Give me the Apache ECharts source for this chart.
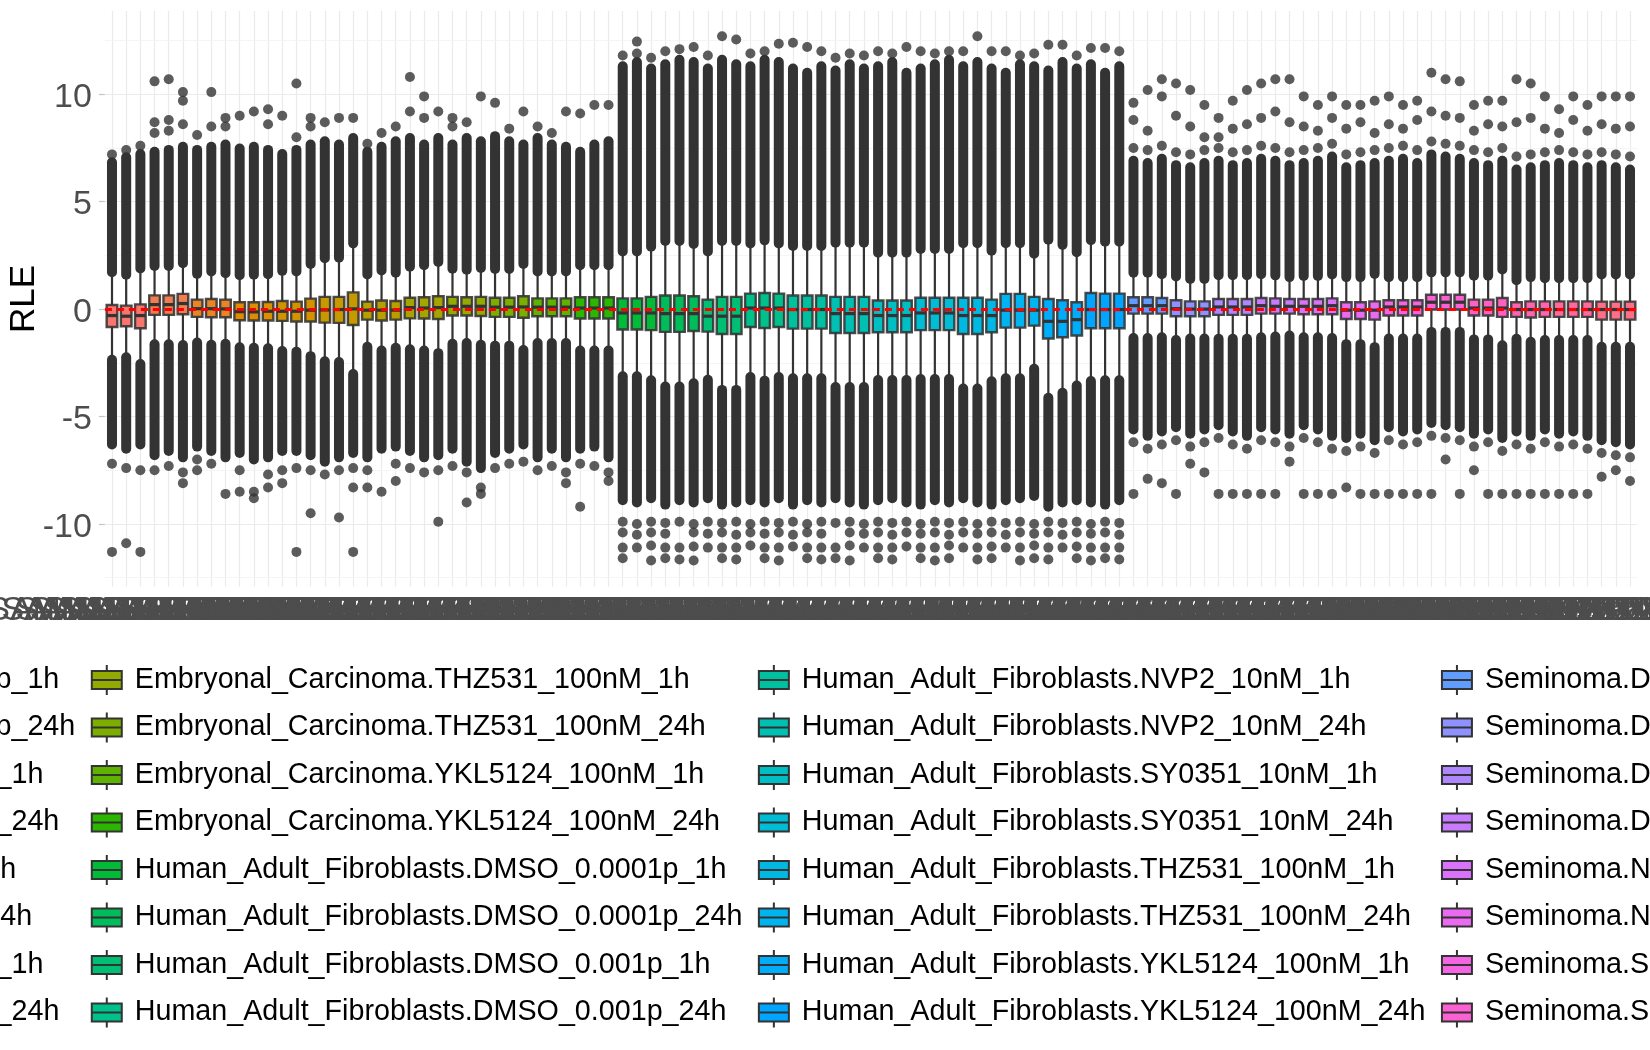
<!DOCTYPE html>
<html>
<head>
<meta charset="utf-8">
<script src="https://cdn.jsdelivr.net/npm/echarts@6/dist/echarts.min.js"></script>
<style>
  html, body { margin: 0; padding: 0; background: #fff; }
  #chart { width: 1650px; height: 1050px; }
</style>
</head>
<body>
<div id="chart"></div>
<script>
// groups (legend entries), 3 samples each
const groups = [
  'Embryonal_Carcinoma.DMSO_0.0001p_1h', 'Embryonal_Carcinoma.DMSO_0.0001p_24h',
  'Embryonal_Carcinoma.DMSO_0.001p_1h', 'Embryonal_Carcinoma.DMSO_0.001p_24h',
  'Embryonal_Carcinoma.NVP2_10nM_1h', 'Embryonal_Carcinoma.NVP2_10nM_24h',
  'Embryonal_Carcinoma.SY0351_10nM_1h', 'Embryonal_Carcinoma.SY0351_10nM_24h',
  'Embryonal_Carcinoma.THZ531_100nM_1h', 'Embryonal_Carcinoma.THZ531_100nM_24h',
  'Embryonal_Carcinoma.YKL5124_100nM_1h', 'Embryonal_Carcinoma.YKL5124_100nM_24h',
  'Human_Adult_Fibroblasts.DMSO_0.0001p_1h', 'Human_Adult_Fibroblasts.DMSO_0.0001p_24h',
  'Human_Adult_Fibroblasts.DMSO_0.001p_1h', 'Human_Adult_Fibroblasts.DMSO_0.001p_24h',
  'Human_Adult_Fibroblasts.NVP2_10nM_1h', 'Human_Adult_Fibroblasts.NVP2_10nM_24h',
  'Human_Adult_Fibroblasts.SY0351_10nM_1h', 'Human_Adult_Fibroblasts.SY0351_10nM_24h',
  'Human_Adult_Fibroblasts.THZ531_100nM_1h', 'Human_Adult_Fibroblasts.THZ531_100nM_24h',
  'Human_Adult_Fibroblasts.YKL5124_100nM_1h', 'Human_Adult_Fibroblasts.YKL5124_100nM_24h',
  'Seminoma.DMSO_0.0001p_1h', 'Seminoma.DMSO_0.0001p_24h',
  'Seminoma.DMSO_0.001p_1h', 'Seminoma.DMSO_0.001p_24h',
  'Seminoma.NVP2_10nM_1h', 'Seminoma.NVP2_10nM_24h',
  'Seminoma.SY0351_10nM_1h', 'Seminoma.SY0351_10nM_24h',
  'Seminoma.THZ531_100nM_1h', 'Seminoma.THZ531_100nM_24h',
  'Seminoma.YKL5124_100nM_1h', 'Seminoma.YKL5124_100nM_24h'
];
const perGroup = 3;

const sampleIds = [
  'SAMN15810001','SAMN15810002','SAMN15810003','SAMN15810004','SAMN15810005','SAMN15810006',
  'SAMN15810007','SAMN15810008','SAMN15810009','SAMN15810010','SAMN15810011','SAMN15810012',
  'SAMN15810013','SAMN15810014','SAMN15810015','SAMN15810016','SAMN15810017','SAMN15810018',
  'SAMN15810019','SAMN15810020','SAMN15810021','SAMN15810022','SAMN15810023','SAMN15810024',
  'SAMN15810025','SAMN15810026','SAMN15810027','SAMN15810028','SAMN15810029','SAMN15810030',
  'SAMN15810031','SAMN15810032','SAMN15810033','SAMN15810034','SAMN15810035','SAMN15810036',
  'SAMN15810037','SAMN15810038','SAMN15810039','SAMN15810040','SAMN15810041','SAMN15810042',
  'SAMN15810043','SAMN15810044','SAMN15810045','SAMN15810046','SAMN15810047','SAMN15810048',
  'SAMN15810049','SAMN15810050','SAMN15810051','SAMN15810052','SAMN15810053','SAMN15810054',
  'SAMN15810055','SAMN15810056','SAMN15810057','SAMN15810058','SAMN15810059','SAMN15810060',
  'SAMN15810061','SAMN15810062','SAMN15810063','SAMN15810064','SAMN15810065','SAMN15810066',
  'SAMN15810067','SAMN15810068','SAMN15810069','SAMN15810070','SAMN15810071','SAMN15810072',
  'SAMN15810073','SAMN15810074','SAMN15810075','SAMN15810076','SAMN15810077','SAMN15810078',
  'SAMN15810079','SAMN15810080','SAMN15810081','SAMN15810082','SAMN15810083','SAMN15810084',
  'SAMN15810085','SAMN15810086','SAMN15810087','SAMN15810088','SAMN15810089','SAMN15810090',
  'SAMN15810091','SAMN15810092','SAMN15810093','SAMN15810094','SAMN15810095','SAMN15810096',
  'SAMN15810097','SAMN15810098','SAMN15810099','SAMN15810100','SAMN15810101','SAMN15810102',
  'SAMN15810103','SAMN15810104','SAMN15810105','SAMN15810106','SAMN15810107','SAMN15810108'
];

// box statistics per sample (RLE)
const q3 = [
  .19,.16,.22,.64,.64,.71,.44,.47,.44,.32,.32,.33,.38,.35,.49,.57,.57,.78,.35,.40,.38,.53,.55,.60,.57,.55,.57,.53,.53,.60,.50,.50,.50,.55,.55,.55,
  .50,.50,.57,.63,.63,.60,.44,.57,.57,.72,.75,.72,.63,.63,.63,.57,.57,.57,.40,.40,.40,.53,.53,.53,.53,.53,.44,.71,.71,.57,.47,.41,.32,.75,.72,.72,
  .55,.55,.52,.41,.36,.36,.47,.47,.47,.52,.50,.47,.47,.47,.50,.32,.32,.36,.41,.41,.41,.67,.67,.67,.44,.44,.52,.32,.36,.36,.36,.36,.36,.35,.35,.35
];
const med = [
  -.30,-.33,-.30,.21,.21,.26,.02,.02,.01,-.12,-.13,-.10,-.10,-.10,-.05,-.04,-.02,.01,-.05,-.05,-.05,.07,.05,.07,.13,.13,.13,.09,.09,.10,.09,.09,.09,.05,.05,.05,
  -.18,-.18,-.18,-.21,-.21,-.21,-.33,-.33,-.33,.05,.05,.05,-.02,-.02,-.02,-.21,-.21,-.21,-.30,-.30,-.30,-.18,-.18,-.18,-.30,-.30,-.30,-.05,-.05,-.05,-.57,-.57,-.49,-.02,-.02,-.02,
  .16,.16,.16,.02,.00,.00,.10,.10,.10,.16,.13,.13,.13,.13,.16,-.05,-.05,-.05,.10,.10,.10,.32,.32,.32,.05,.05,.05,-.02,-.02,-.02,-.02,-.02,-.02,-.02,-.02,-.02
];
const q1 = [
  -.83,-.80,-.89,-.27,-.27,-.24,-.36,-.38,-.38,-.52,-.53,-.53,-.55,-.58,-.58,-.63,-.64,-.74,-.49,-.53,-.49,-.43,-.44,-.46,-.30,-.30,-.32,-.36,-.36,-.40,-.33,-.33,-.33,-.44,-.44,-.44,
  -.95,-.95,-.98,-1.06,-1.06,-1.02,-1.05,-1.16,-1.16,-.83,-.88,-.83,-.91,-.91,-.91,-1.11,-1.11,-1.11,-1.08,-1.08,-1.08,-.98,-.98,-.98,-1.16,-1.16,-1.08,-.86,-.86,-.77,-1.37,-1.31,-1.23,-.89,-.89,-.89,
  -.21,-.21,-.21,-.33,-.33,-.33,-.27,-.27,-.27,-.21,-.21,-.21,-.24,-.24,-.24,-.46,-.46,-.49,-.30,-.30,-.30,-.02,-.02,-.02,-.30,-.30,-.36,-.36,-.39,-.36,-.36,-.36,-.36,-.49,-.49,-.49
];
const whiskHi = [
  1.72,1.60,1.89,2.01,2.01,2.14,1.64,1.75,1.67,1.58,1.60,1.62,1.78,1.75,2.10,2.37,2.39,3.06,1.61,1.80,1.69,1.97,2.04,2.19,1.88,1.83,1.91,1.87,1.87,2.10,1.75,1.75,1.75,2.04,2.04,2.04,
  2.68,2.68,2.90,3.17,3.17,3.03,2.68,3.17,3.17,3.05,3.20,3.05,2.94,2.94,2.94,3.09,3.09,3.09,2.62,2.62,2.62,2.80,2.80,2.80,3.07,3.07,2.72,3.07,3.07,2.58,3.23,2.99,2.65,3.21,3.14,3.14,
  1.69,1.69,1.62,1.52,1.40,1.40,1.58,1.58,1.58,1.62,1.57,1.49,1.54,1.54,1.61,1.49,1.49,1.64,1.48,1.48,1.48,1.71,1.71,1.71,1.55,1.55,1.84,1.34,1.49,1.44,1.44,1.44,1.44,1.61,1.61,1.61
];
const whiskLo = [
  -2.36,-2.24,-2.56,-1.64,-1.64,-1.67,-1.56,-1.66,-1.61,-1.78,-1.80,-1.82,-1.95,-1.98,-2.19,-2.43,-2.46,-3.02,-1.75,-1.93,-1.80,-1.87,-1.93,-2.05,-1.61,-1.58,-1.66,-1.70,-1.70,-1.90,-1.58,-1.58,-1.58,-1.93,-1.93,-1.93,
  -3.13,-3.13,-3.31,-3.60,-3.60,-3.45,-3.29,-3.76,-3.76,-3.16,-3.33,-3.16,-3.22,-3.22,-3.22,-3.63,-3.63,-3.63,-3.30,-3.30,-3.30,-3.25,-3.25,-3.25,-3.70,-3.70,-3.36,-3.22,-3.22,-2.78,-4.13,-3.89,-3.56,-3.35,-3.31,-3.31,
  -1.35,-1.35,-1.31,-1.44,-1.37,-1.37,-1.38,-1.38,-1.38,-1.31,-1.28,-1.23,-1.31,-1.31,-1.35,-1.63,-1.63,-1.77,-1.37,-1.37,-1.37,-1.06,-1.06,-1.06,-1.41,-1.41,-1.68,-1.38,-1.52,-1.44,-1.44,-1.44,-1.44,-1.75,-1.75,-1.75
];
// extent of the dense run of outliers beyond each whisker
const denseHi = [
  6.83,7.07,7.22,7.32,7.41,7.56,7.41,7.56,7.66,7.47,7.56,7.41,7.22,7.41,7.66,7.81,7.66,7.96,7.32,7.56,7.81,7.96,7.66,7.96,7.66,7.96,7.81,8.05,7.81,7.66,7.96,7.66,7.56,7.32,7.66,7.81,
  11.3,11.5,11.2,11.4,11.6,11.5,11.2,11.6,11.4,11.3,11.6,11.5,11.2,11.0,11.3,11.1,11.4,11.2,11.3,11.5,11.0,11.2,11.4,11.6,11.3,11.5,11.2,11.0,11.4,11.3,11.1,11.5,11.2,11.4,11.0,11.3,
  6.9,6.8,7.0,6.7,6.6,6.8,6.9,6.7,6.8,7.0,6.9,6.7,6.8,6.9,7.1,6.6,6.7,6.8,6.9,7.0,6.8,7.2,7.1,7.0,6.8,6.7,6.9,6.5,6.6,6.7,6.8,6.7,6.6,6.7,6.6,6.5
];
const denseLo = [
  -6.3,-6.5,-6.3,-6.8,-6.6,-6.9,-6.4,-6.6,-6.9,-6.7,-7.0,-6.9,-6.6,-6.6,-6.8,-7.1,-6.9,-6.7,-6.9,-6.5,-6.4,-6.6,-6.9,-6.8,-6.5,-7.1,-7.4,-6.7,-6.5,-6.3,-6.9,-6.5,-6.9,-6.5,-6.4,-6.9,
  -8.9,-9.0,-8.8,-9.1,-8.9,-9.0,-8.8,-9.1,-9.0,-8.9,-9.0,-8.8,-9.1,-8.9,-9.0,-8.8,-9.0,-9.1,-8.9,-8.8,-9.0,-9.1,-8.9,-9.0,-8.8,-9.0,-9.1,-8.9,-8.8,-8.7,-9.2,-9.0,-8.9,-9.0,-9.1,-8.9,
  -5.6,-5.9,-5.7,-5.5,-5.8,-5.6,-5.4,-5.7,-5.9,-5.5,-5.6,-5.8,-5.4,-5.6,-5.9,-6.0,-5.8,-6.1,-5.5,-5.7,-5.6,-5.3,-5.4,-5.5,-5.8,-5.6,-6.0,-5.7,-5.9,-5.6,-5.8,-5.7,-5.9,-6.1,-6.2,-6.3
];
// separate outlier points: [sample index, values...]
const sparseOutliers = [
  [0, 7.2, -7.2, -11.3], [1, 7.4, -7.4, -10.9], [2, 7.6, -7.5, -11.3],
  [3, 8.2, 8.7, 10.6, -7.5], [4, 8.3, 8.8, 10.7, -7.3], [5, 8.6, 9.7, 10.1, -7.6, -8.1],
  [6, 8.1, -7.0, -7.5], [7, 8.5, 10.1, -7.2], [8, 8.5, 8.9, -8.6],
  [9, 9.0, -7.5, -8.5], [10, 9.2, -8.5, -8.8], [11, 8.6, 9.3, -7.7, -8.3],
  [12, 9.0, -7.5, -8.1], [13, 8.0, 10.5, -7.4, -11.3], [14, 8.5, 8.9, -7.5, -9.5],
  [15, 8.7, -7.7], [16, 8.9, -7.5, -9.7], [17, 8.9, -7.4, -8.3, -11.3],
  [18, 7.7, -7.5, -8.3], [19, 8.2, -8.5], [20, 8.5, -7.2, -8.0],
  [21, 9.2, 10.8, -7.4], [22, 8.9, 9.9, -7.6], [23, 9.2, -7.5, -9.9],
  [24, 8.5, 8.9, -7.3], [25, 8.7, -7.6, -9.0], [26, 9.9, -8.3, -8.6],
  [27, 9.6, -7.4], [28, 8.4, -7.2], [29, 9.2, -7.1],
  [30, 8.5, -7.5], [31, 8.2, -7.3], [32, 9.2, -7.6, -8.1],
  [33, 9.1, -7.2, -9.2], [34, 9.5, -7.3], [35, 9.5, -7.6, -8.0],
  [36, 11.8, -9.9, -10.4, -11.1, -11.6], [37, 11.9, 12.45, -10.0, -10.5, -11.1], [38, 11.7, -9.9, -10.4, -11.0, -11.7],
  [39, 12.0, -9.95, -10.45, -11.1, -11.6], [40, 12.1, -9.9, -11.1, -11.65], [41, 12.2, -10.0, -10.4, -11.05, -11.7],
  [42, 11.8, -9.9, -10.45, -11.1], [43, 12.7, -9.95, -10.4, -11.1, -11.6], [44, 12.55, -9.9, -10.5, -11.1, -11.65],
  [45, 11.9, -10.0, -10.4, -11.0], [46, 12.0, -9.9, -10.45, -11.1, -11.6], [47, 12.35, -9.95, -10.4, -11.1, -11.7],
  [48, 12.4, -9.9, -10.5, -11.05], [49, 12.2, -10.0, -10.4, -11.1, -11.6], [50, 12.0, -9.9, -10.45, -11.1, -11.65],
  [51, 11.7, -9.95, -11.1, -11.6], [52, 11.9, -9.9, -10.4, -11.0, -11.7], [53, 11.8, -10.0, -10.45, -11.1],
  [54, 12.0, -9.9, -10.4, -11.1, -11.6], [55, 11.9, -9.95, -10.5, -11.1, -11.65], [56, 12.2, -9.9, -10.4, -11.05],
  [57, 12.0, -10.0, -10.45, -11.1, -11.6], [58, 11.9, -9.9, -10.4, -11.1, -11.7], [59, 12.0, -9.95, -10.5, -11.0, -11.6],
  [60, 12.0, -9.9, -10.4, -11.1], [61, 12.7, -10.0, -10.45, -11.1, -11.65], [62, 12.0, -9.9, -10.4, -11.05, -11.6],
  [63, 12.0, -9.95, -10.5, -11.1], [64, 11.8, -9.9, -10.4, -11.1, -11.7], [65, 11.9, -10.0, -10.45, -11.0, -11.6],
  [66, 12.3, -9.9, -10.4, -11.1, -11.65], [67, 12.3, -9.95, -10.5, -11.1], [68, 11.8, -9.9, -10.4, -11.05, -11.6],
  [69, 12.15, -10.0, -10.45, -11.1, -11.7], [70, 12.15, -9.9, -10.4, -11.1, -11.6], [71, 12.0, -9.95, -10.5, -11.1, -11.65],
  [72, 7.5, 8.8, 9.6, -6.2, -8.6], [73, 7.4, 8.3, 10.2, -6.5, -7.9], [74, 7.6, 9.9, 10.7, -6.3, -8.1],
  [75, 7.3, 9.0, 10.5, -6.1, -8.6], [76, 7.2, 8.5, 10.2, -6.4, -7.2], [77, 7.4, 8.0, 9.5, -6.2, -7.6],
  [78, 7.5, 8.0, 8.9, -6.0, -8.6], [79, 7.3, 8.4, 9.7, -6.3, -8.6], [80, 7.4, 8.6, 10.2, -6.5, -8.6],
  [81, 7.6, 8.9, 10.5, -6.1, -8.6], [82, 7.5, 9.2, 10.7, -6.2, -8.6], [83, 7.3, 8.7, 10.7, -6.4, -7.1],
  [84, 7.4, 8.5, 9.9, -6.0, -8.6], [85, 7.5, 8.3, 9.5, -6.2, -8.6], [86, 7.7, 8.9, 9.9, -6.5, -8.6],
  [87, 7.2, 8.4, 9.5, -6.6, -8.3], [88, 7.3, 8.7, 9.5, -6.4, -8.6], [89, 7.4, 8.2, 9.7, -6.7, -8.6],
  [90, 7.5, 8.6, 9.9, -6.1, -8.6], [91, 7.6, 8.4, 9.5, -6.3, -8.6], [92, 7.4, 8.8, 9.7, -6.2, -8.6],
  [93, 7.8, 9.2, 11.0, -5.9, -8.6], [94, 7.7, 9.0, 10.7, -6.0, -7.0], [95, 7.6, 8.9, 10.6, -6.1, -8.6],
  [96, 7.4, 8.3, 9.5, -6.4, -7.5], [97, 7.3, 8.6, 9.7, -6.2, -8.6], [98, 7.5, 8.5, 9.7, -6.6, -8.6],
  [99, 7.1, 8.7, 10.7, -6.3, -8.6], [100, 7.2, 8.9, 10.5, -6.5, -8.6], [101, 7.3, 8.4, 9.9, -6.2, -8.6],
  [102, 7.4, 8.2, 9.3, -6.4, -8.6], [103, 7.3, 8.8, 9.9, -6.3, -8.6], [104, 7.2, 8.3, 9.5, -6.5, -8.6],
  [105, 7.3, 8.6, 9.9, -6.7, -7.8], [106, 7.2, 8.4, 9.9, -6.8, -7.5], [107, 7.1, 8.5, 9.9, -6.9, -8.0]
];

const yTicks = [-10, -5, 0, 5, 10];
const yMinor = [-12.5, -7.5, -2.5, 2.5, 7.5, 12.5];

// ggplot2 hue palette (hcl with l=65, c=100)
function hcl(h, c, l) {
  const Xn = 95.047, Yn = 100.0, Zn = 108.883;
  const hr = h * Math.PI / 180;
  const U = c * Math.cos(hr), V = c * Math.sin(hr);
  const Y = l > 7.999592 ? Yn * Math.pow((l + 16) / 116, 3) : Yn * l / 903.3;
  const t = Xn + 15 * Yn + 3 * Zn;
  const u = U / (13 * l) + 4 * Xn / t;
  const v = V / (13 * l) + 9 * Yn / t;
  const X = 9 * Y * u / (4 * v);
  const Z = -X / 3 - 5 * Y + 3 * Y / v;
  const gam = x => x > 0.00304 ? 1.055 * Math.pow(x, 1 / 2.4) - 0.055 : 12.92 * x;
  const rgb = [
    3.240479 * X - 1.537150 * Y - 0.498535 * Z,
    -0.969256 * X + 1.875992 * Y + 0.041556 * Z,
    0.055648 * X - 0.204043 * Y + 1.057311 * Z
  ];
  return '#' + rgb.map(x => {
    const s = Math.round(255 * Math.min(1, Math.max(0, gam(x / 100))));
    return s.toString(16).padStart(2, '0');
  }).join('');
}
const colors = groups.map((g, i) => hcl(15 + i * 360 / groups.length, 100, 65));

const INK = '#333333';
const DOT = 5;
const FONT = 'Liberation Sans, Arial, sans-serif';

function renderBox(params, api) {
  const k = api.value(0);
  const bw = api.size([1, 0])[0];
  const half = bw * 0.375;
  const yOf = i => api.coord([k, api.value(i)])[1];
  const x = api.coord([k, 0])[0];
  const yLo2 = yOf(1), yLo1 = yOf(2), yQ1 = yOf(3), yMed = yOf(4), yQ3 = yOf(5), yHi1 = yOf(6), yHi2 = yOf(7);
  return {
    type: 'group',
    children: [
      { type: 'line', shape: { x1: x, y1: yQ3, x2: x, y2: yHi1 }, style: { stroke: INK, lineWidth: 2.2 } },
      { type: 'line', shape: { x1: x, y1: yQ1, x2: x, y2: yLo1 }, style: { stroke: INK, lineWidth: 2.2 } },
      { type: 'rect', shape: { x: x - DOT, y: yHi2 - DOT, width: 2 * DOT, height: yHi1 - yHi2 + 2 * DOT, r: DOT }, style: { fill: INK } },
      { type: 'rect', shape: { x: x - DOT, y: yLo1 - DOT, width: 2 * DOT, height: yLo2 - yLo1 + 2 * DOT, r: DOT }, style: { fill: INK } },
      { type: 'rect', shape: { x: x - half, y: yQ3, width: 2 * half, height: yQ1 - yQ3 },
        style: { fill: api.visual('color'), stroke: 'rgba(51,51,51,0.88)', lineWidth: 2.4 } },
      { type: 'line', shape: { x1: x - half, y1: yMed, x2: x + half, y2: yMed }, style: { stroke: INK, lineWidth: 3.2 } }
    ]
  };
}

const series = groups.map((g, gi) => {
  const data = [];
  for (let r = 0; r < perGroup; r++) {
    const k = gi * perGroup + r;
    data.push([k, denseLo[k], whiskLo[k], q1[k], med[k], q3[k], whiskHi[k], denseHi[k]]);
  }
  const s = {
    type: 'custom',
    name: g,
    renderItem: renderBox,
    data: data,
    itemStyle: { color: colors[gi] },
    encode: { x: 0, y: [1, 2, 3, 4, 5, 6, 7] },
    z: 3,
    silent: true
  };
  if (gi === 0) {
    s.markLine = {
      silent: true, symbol: 'none', z: 10, animation: false,
      label: { show: false },
      lineStyle: { color: '#FF0000', width: 3, type: [7, 5] },
      data: [{ yAxis: 0 }]
    };
  }
  return s;
});

const outlierPoints = [];
sparseOutliers.forEach(row => {
  for (let i = 1; i < row.length; i++) outlierPoints.push([row[0], row[i]]);
});

const gridLines = []
  .concat(sampleIds.map(id => ({ xAxis: id })))
  .concat(yTicks.map(v => ({ yAxis: v })))
  .concat(yMinor.map(v => ({ yAxis: v, lineStyle: { color: '#F3F3F3', width: 0.8 } })));

series.push({
  type: 'scatter',
  name: 'outliers',
  data: outlierPoints,
  symbol: 'circle',
  symbolSize: 2 * DOT,
  itemStyle: { color: INK },
  z: 3,
  silent: true,
  markLine: {
    silent: true, symbol: 'none', z: 1, animation: false,
    label: { show: false },
    lineStyle: { color: '#EBEBEB', width: 1.2, type: 'solid' },
    data: gridLines
  }
});

const chart = echarts.init(document.getElementById('chart'));
chart.setOption({
  animation: false,
  backgroundColor: '#ffffff',
  textStyle: { fontFamily: FONT },
  grid: {
    left: 104.9, right: 12.9, top: 11.1, bottom: 463.3,
    containLabel: false, outerBoundsMode: 'none'
  },
  xAxis: {
    type: 'category',
    data: sampleIds,
    boundaryGap: true,
    axisLine: { show: false },
    axisTick: { show: true, alignWithLabel: true, interval: 0, length: 6, lineStyle: { color: '#9E9E9E', width: 1.2 } },
    axisLabel: { show: true, interval: 0, fontSize: 34, lineHeight: 34, color: '#4D4D4D', margin: 7, fontFamily: FONT, hideOverlap: false },
    splitLine: { show: false }
  },
  yAxis: {
    type: 'value',
    min: -12.92,
    max: 13.87,
    name: 'RLE',
    nameLocation: 'middle',
    nameGap: 63,
    nameMoveOverlap: false,
    nameTextStyle: { fontSize: 35, color: '#000000', fontFamily: FONT },
    axisLine: { show: false },
    axisTick: { show: true, length: 6, customValues: yTicks, lineStyle: { color: '#C4C4C4', width: 1.2 } },
    axisLabel: {
      customValues: yTicks, margin: 13,
      formatter: '{t|{value}}',
      rich: { t: { fontSize: 34, color: '#4D4D4D', fontFamily: FONT, padding: [6.4, 0, 0, 0] } }
    },
    splitLine: { show: false }
  },
  legend: {
    data: groups,
    orient: 'vertical',
    left: -538,
    top: 664,
    height: 372,
    padding: 0,
    itemGap: 15.5,
    itemWidth: 30,
    itemHeight: 30,
    selectedMode: false,
    icon: 'path://M0,6H30V24H0Z M0,15H30 M15,0V6 M15,24V30',
    itemStyle: { borderColor: '#333333', borderWidth: 2 },
    textStyle: { fontSize: 28.7, lineHeight: 30.5, color: '#000000', fontFamily: FONT, padding: [0, 0, 0, 8] }
  },
  series: series
});
</script>
</body>
</html>
